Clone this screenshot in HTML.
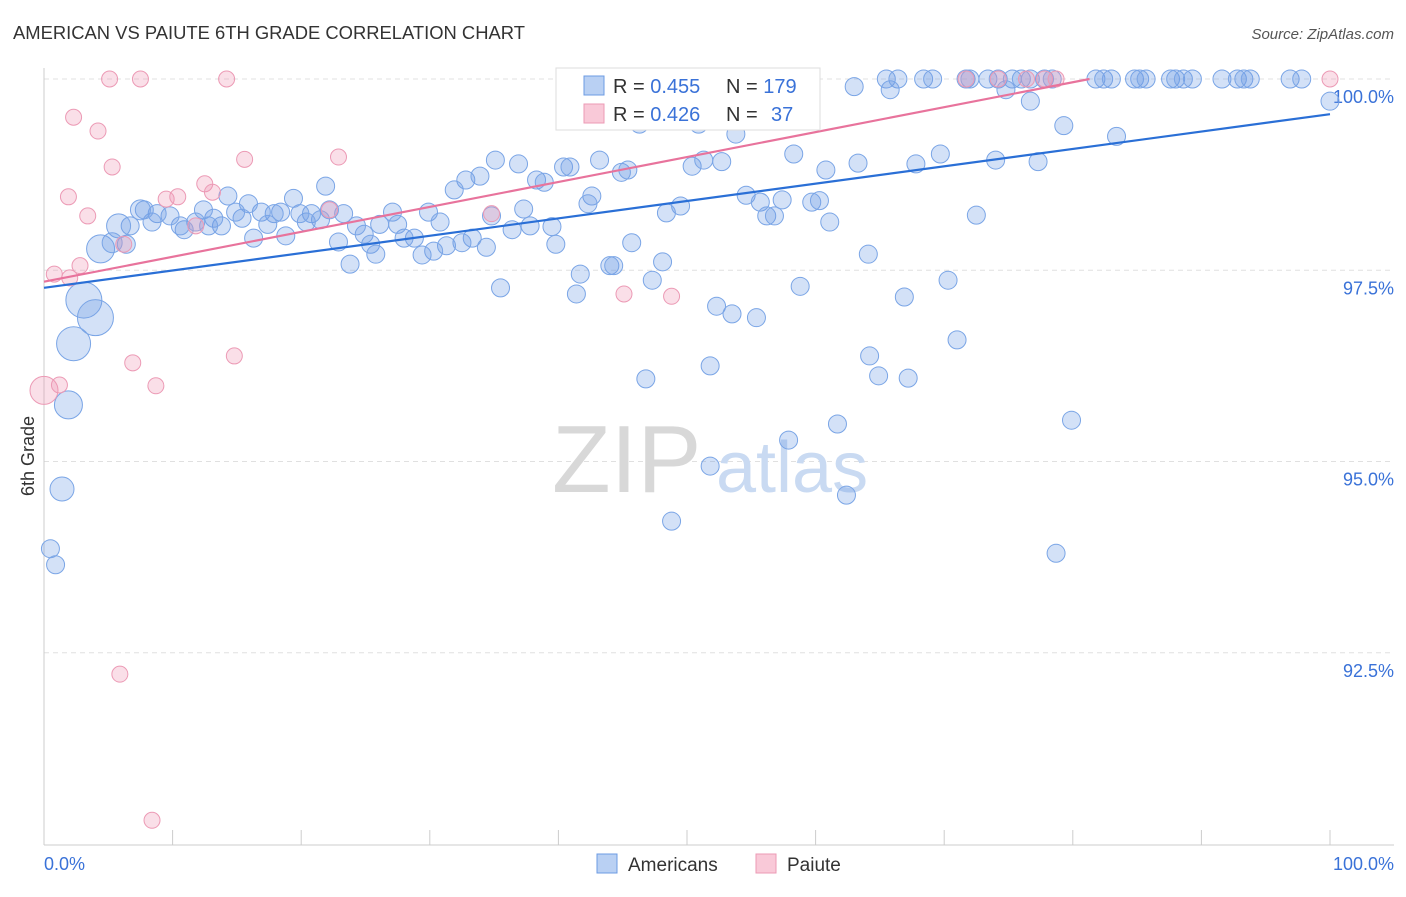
<!DOCTYPE html>
<html><head><meta charset="utf-8"><style>
body{margin:0;background:#fff;font-family:"Liberation Sans",sans-serif}
svg text{font-family:"Liberation Sans",sans-serif}
</style></head><body>
<svg id="chart" width="1406" height="892">
<text x="13" y="39" font-size="18.4" fill="#333">AMERICAN VS PAIUTE 6TH GRADE CORRELATION CHART</text>
<text x="1394" y="39" font-size="15" fill="#555" font-style="italic" text-anchor="end">Source: ZipAtlas.com</text>
<g id="grid"></g>
<g>
<text x="552" y="492" font-size="96" fill="#d8d8d8" font-family="Liberation Serif">ZIP</text>
<text x="716" y="492" font-size="72" fill="#c9daf2">atlas</text>
</g>
<g id="marks"></g>
<text transform="translate(34,456) rotate(-90)" font-size="18" fill="#333" text-anchor="middle">6th Grade</text>
<text x="44" y="870" font-size="18" fill="#3a72d8">0.0%</text>
<text x="1394" y="870" font-size="18" fill="#3a72d8" text-anchor="end">100.0%</text>
<g>
<rect x="556" y="68" width="264" height="62" fill="#fff" stroke="#ddd"/>
<rect x="584" y="76" width="20" height="19" fill="#b9d0f3" stroke="#6c9be3"/>
<rect x="584" y="104" width="20" height="19" fill="#f9c9d8" stroke="#ec9ab5"/>
<text x="613" y="93" font-size="20" fill="#333">R = <tspan fill="#3a72d8">0.455</tspan><tspan x="726">N = </tspan><tspan fill="#3a72d8">179</tspan></text>
<text x="613" y="121" font-size="20" fill="#333">R = <tspan fill="#3a72d8">0.426</tspan><tspan x="726">N = </tspan><tspan x="771" fill="#3a72d8">37</tspan></text>
</g>
<g>
<rect x="597" y="854" width="20" height="19" fill="#b9d0f3" stroke="#6c9be3"/>
<text x="628" y="871" font-size="19" fill="#333">Americans</text>
<rect x="756" y="854" width="20" height="19" fill="#f9c9d8" stroke="#ec9ab5"/>
<text x="787" y="871" font-size="19" fill="#333">Paiute</text>
</g>
</svg>
<script>
const yTicks=[100,97.5,95,92.5];
const yTickLabels=["100.0%","97.5%","95.0%","92.5%"];
const blueX=[59.3,65.5,66.4,68.4,69.1,71.7,72.0,73.4,74.2,75.3,76.0,76.7,77.8,78.4,81.8,82.4,83.0,84.8,85.2,85.7,87.6,88.0,88.6,89.3,91.6,92.8,93.3,93.8,96.9,97.8,
63.0,65.8,74.8,76.7,100,50.9,53.8,79.3,83.4,46.3,35.1,36.9,40.4,40.9,43.2,44.9,45.4,50.4,51.3,52.7,58.3,60.8,63.3,67.8,69.7,74.0,77.3,32.8,33.9,31.9,38.3,38.9,21.9,42.6,42.3,54.6,55.7,57.4,59.7,60.3,49.5,48.4,56.2,56.8,61.1,72.5,37.3,34.8,29.9,27.1,30.8,36.4,37.8,39.5,39.8,45.7,34.4,33.3,32.5,31.3,30.3,29.4,28.8,28.0,27.5,26.1,24.9,25.4,25.8,23.8,22.9,23.3,24.3,22.2,20.8,21.5,20.4,19.9,19.4,18.8,18.4,17.9,16.9,17.4,15.9,15.4,14.9,14.3,16.3,13.8,13.2,12.4,12.8,11.8,10.9,10.6,9.8,8.8,8.4,7.8,6.7,6.4,
35.5,41.7,41.4,44.0,44.3,48.1,47.3,52.3,53.5,55.4,58.8,64.1,66.9,70.3,71.0,64.2,64.9,67.2,46.8,51.8,61.7,57.9,51.8,62.4,48.8,79.9,78.7,
3.1,4.0,2.3,4.4,1.9,1.4,5.8,5.3,7.5,0.5,0.9];
const blueY=[100,100,100,100,100,100,100,100,100,100,100,100,100,100,100,100,100,100,100,100,100,100,100,100,100,100,100,100,100,100,
99.9,99.86,99.86,99.71,99.71,99.41,99.28,99.39,99.25,99.41,98.94,98.89,98.85,98.85,98.94,98.78,98.81,98.86,98.94,98.92,99.02,98.81,98.9,98.89,99.02,98.94,98.92,98.68,98.73,98.55,98.68,98.65,98.6,98.47,98.37,98.48,98.39,98.42,98.39,98.41,98.34,98.25,98.21,98.21,98.13,98.22,98.3,98.21,98.26,98.26,98.13,98.03,98.08,98.07,97.84,97.86,97.8,97.92,97.86,97.82,97.75,97.7,97.92,97.92,98.1,98.1,97.97,97.84,97.71,97.58,97.87,98.24,98.08,98.29,98.24,98.16,98.13,98.24,98.44,97.95,98.26,98.24,98.26,98.1,98.37,98.18,98.26,98.47,97.92,98.08,98.18,98.29,98.08,98.13,98.03,98.08,98.21,98.24,98.13,98.29,98.08,97.84,
97.27,97.45,97.19,97.56,97.56,97.61,97.37,97.03,96.93,96.88,97.29,97.71,97.15,97.37,96.59,96.38,96.12,96.09,96.08,96.25,95.49,95.28,94.94,94.56,94.22,95.54,93.8,
97.11,96.88,96.54,97.78,95.74,94.64,98.08,97.86,98.29,93.86,93.65];
const blueSize=[18,18,17,14,14,12,12,10,10,9,9];
const pinkX=[0.8,0,1.2,1.9,2.3,3.4,2.8,4.2,5.3,5.1,7.5,14.2,6.2,6.9,8.7,5.9,8.4,9.5,10.4,11.8,12.5,13.1,14.8,15.6,22.2,22.9,34.8,45.1,48.8,71.7,74.2,76.4,77.8,78.7,100,45.8,2.0];
const pinkY=[97.45,95.93,96.0,98.46,99.5,98.21,97.56,99.32,98.85,100,100,100,97.84,96.29,95.99,92.22,90.31,98.43,98.46,98.08,98.63,98.52,96.38,98.95,98.29,98.98,98.24,97.19,97.16,100,100,100,100,100,100,100,97.4];
const blueTrend=[97.27,99.54];
const pinkTrend=[97.35,100];
const pinkTrendEndX=[0,81.3];
const X0=44,X1=1330,Y100=79,PXPER=76.5;
const sx=v=>X0+(X1-X0)*v/100;
const sy=v=>Y100+(100-v)*PXPER;
const NS="http://www.w3.org/2000/svg";
const grid=document.getElementById('grid'),marks=document.getElementById('marks');
function mk(tag,attrs,parent){const e=document.createElementNS(NS,tag);for(const k in attrs)e.setAttribute(k,attrs[k]);parent.appendChild(e);return e;}
yTicks.forEach((t,i)=>{
 const l=mk('line',{x1:44,x2:1394,y1:sy(t),y2:sy(t),stroke:'#e0e0e0','stroke-dasharray':'5,4'},grid);
 
 
 const tx=mk('text',{x:1394,y:sy(t)+24,'font-size':18,fill:'#3a72d8','text-anchor':'end'},grid);
 tx.textContent=yTickLabels[i];
 
 
});
const ax=mk('line',{x1:44,x2:1394,y1:845,y2:845,stroke:'#ccc'},grid);


const ay=mk('line',{x1:44,x2:44,y1:68,y2:845,stroke:'#ccc'},grid);


for(let i=1;i<=10;i++){const t=mk('line',{x1:sx(i*10),x2:sx(i*10),y1:830,y2:845,stroke:'#ccc'},grid);
 
 }
const nb=blueX.length;
blueX.forEach((x,i)=>{
 const big=i>=nb-blueSize.length?blueSize[i-(nb-blueSize.length)]:9;
 const c=mk('circle',{cx:sx(x),cy:sy(blueY[i]),r:big,fill:'rgba(110,155,230,0.3)',stroke:'#7aa5e6','stroke-width':1},marks);
 
 
});
pinkX.forEach((x,i)=>{
 const c=mk('circle',{cx:sx(x),cy:sy(pinkY[i]),r:i===1?14:8,fill:'rgba(240,150,180,0.3)',stroke:'#ec9ab5','stroke-width':1},marks);
 
 
});
const bl=mk('line',{x1:sx(0),y1:sy(blueTrend[0]),x2:sx(100),y2:sy(blueTrend[1]),stroke:'#2a6fd6','stroke-width':2.2},marks);


const pl=mk('line',{x1:sx(pinkTrendEndX[0]),y1:sy(pinkTrend[0]),x2:sx(pinkTrendEndX[1]),y2:sy(pinkTrend[1]),stroke:'#e8739c','stroke-width':2.2},marks);


</script>
</body></html>
